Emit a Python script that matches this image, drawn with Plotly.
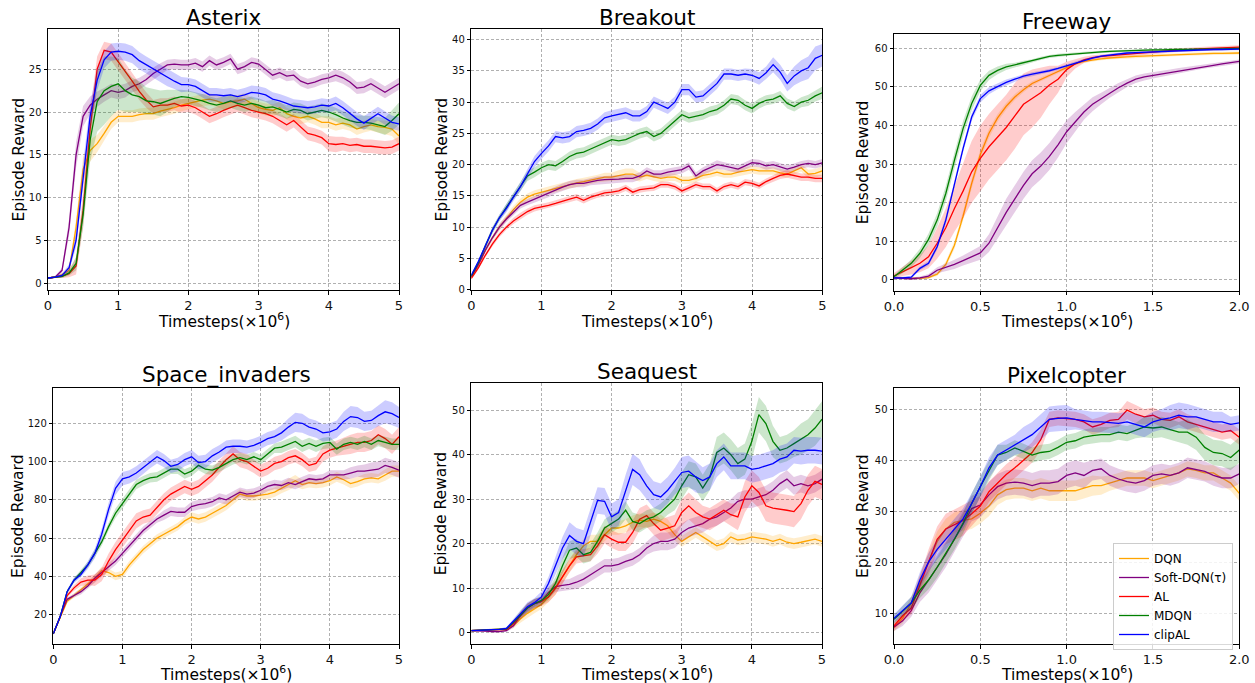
import plotly.graph_objects as go

# ---------------- x grids (timesteps, x1e6) ----------------
X_5M = [0.0, 0.1, 0.2, 0.3, 0.4, 0.5, 0.6, 0.7, 0.8, 0.9,
        1.0, 1.1, 1.2, 1.3, 1.4, 1.5, 1.6, 1.7, 1.8, 1.9,
        2.0, 2.1, 2.2, 2.3, 2.4, 2.5, 2.6, 2.7, 2.8, 2.9,
        3.0, 3.1, 3.2, 3.3, 3.4, 3.5, 3.6, 3.7, 3.8, 3.9,
        4.0, 4.1, 4.2, 4.3, 4.4, 4.5, 4.6, 4.7, 4.8, 4.9,
        5.0]
X_2M = [0.0, 0.05, 0.1, 0.15, 0.2, 0.25, 0.3, 0.35, 0.4, 0.45,
        0.5, 0.55, 0.6, 0.65, 0.7, 0.75, 0.8, 0.85, 0.9, 0.95,
        1.0, 1.05, 1.1, 1.15, 1.2, 1.25, 1.3, 1.35, 1.4, 1.45,
        1.5, 1.55, 1.6, 1.65, 1.7, 1.75, 1.8, 1.85, 1.9, 1.95,
        2.0]

METHODS = ["DQN", "Soft-DQN(τ)", "AL", "MDQN", "clipAL"]
GAMES = ["Asterix", "Breakout", "Freeway", "Space_invaders", "Seaquest", "Pixelcopter"]

# ---------------- Asterix ----------------
AST_DQN = [0.6, 0.7, 1.0, 1.5, 6.5, 13.3, 15.5, 16.3, 17.5, 18.8,
           19.5, 19.5, 19.5, 19.7, 19.8, 19.8, 20.1, 20.3, 20.5, 20.8,
           21.0, 21.2, 21.4, 21.5, 21.3, 21.0, 21.2, 21.3, 21.5, 21.0,
           20.5, 20.3, 20.2, 20.5, 19.8, 19.5, 19.3, 19.5, 19.2, 18.8,
           18.8, 18.5, 18.7, 18.5, 18.0, 18.3, 18.5, 18.3, 18.2, 18.0,
           17.2]
AST_SOFT = [0.6, 0.7, 1.5, 6.5, 15.0, 19.5, 20.8, 21.5, 22.0, 22.5,
            22.3, 22.5, 23.0, 23.3, 23.8, 24.5, 25.0, 25.5, 25.6, 25.5,
            25.5, 25.7, 25.3, 26.0, 25.5, 25.8, 26.2, 25.0, 25.3, 25.8,
            25.6, 25.0, 24.3, 24.6, 24.2, 24.3, 23.6, 23.3, 23.5, 23.8,
            24.0, 24.3, 24.0, 23.5, 22.8, 22.9, 23.3, 22.8, 22.3, 22.8,
            23.3]
AST_AL = [0.6, 0.7, 0.8, 1.1, 2.0, 8.5, 18.0, 25.0, 27.2, 27.0,
          25.9, 24.7, 23.6, 22.4, 21.4, 20.6, 20.8, 20.8, 21.0, 20.7,
          20.8, 20.5, 20.0, 19.5, 19.8, 20.2, 20.5, 20.8, 20.5, 20.2,
          20.0, 19.8, 19.5, 19.0, 18.5, 19.0, 18.3, 17.5, 17.3, 17.0,
          16.3, 16.2, 16.3, 16.1, 16.2, 16.0, 16.0, 15.9, 15.8, 15.9,
          16.3]
AST_MDQN = [0.6, 0.7, 0.8, 1.2, 2.3, 8.0, 16.7, 21.2, 22.5, 23.0,
            23.3, 22.5, 22.0, 21.8, 21.3, 21.2, 21.0, 21.3, 21.6, 21.8,
            21.7, 21.5, 21.3, 21.0, 20.8, 21.0, 21.3, 21.0, 20.8, 21.0,
            20.8, 20.5, 20.6, 20.3, 20.0, 20.3, 20.2, 19.8, 20.0, 20.2,
            20.0, 19.7, 19.3, 19.0, 18.8, 18.8, 18.7, 18.5, 18.3, 19.0,
            19.8]
AST_CLIP = [0.6, 0.7, 0.9, 1.8, 5.0, 12.5, 19.5, 23.7, 26.1, 27.0,
            27.1, 27.0, 26.7, 26.0, 25.5, 25.0, 24.5, 24.0, 23.6, 23.2,
            23.2, 23.0, 22.5, 22.0, 22.0, 21.9, 22.0, 21.8, 22.0, 22.3,
            22.2, 22.0, 21.5, 21.3, 21.0, 20.7, 20.6, 20.5, 20.6, 20.8,
            20.7, 21.0, 20.5, 19.8, 19.2, 18.7, 19.3, 19.8, 19.3, 18.8,
            18.6]
AST_DQN_SD = [0.1, 0.1, 0.2, 0.4, 1.0, 1.5, 1.3, 1.0, 0.9, 0.8,
              0.7, 0.7, 0.7, 0.7, 0.7, 0.7, 0.7, 0.7, 0.7, 0.7,
              0.7, 0.7, 0.7, 0.7, 0.7, 0.7, 0.7, 0.7, 0.7, 0.7,
              0.7, 0.7, 0.7, 0.7, 0.7, 0.7, 0.7, 0.7, 0.7, 0.7,
              0.7, 0.7, 0.7, 0.7, 0.7, 0.7, 0.7, 0.7, 0.8, 0.8,
              1.0]
AST_SOFT_SD = [0.1, 0.1, 0.3, 1.0, 1.5, 1.2, 1.0, 0.9, 0.8, 0.8,
               0.8, 0.8, 0.7, 0.7, 0.7, 0.7, 0.7, 0.6, 0.6, 0.6,
               0.6, 0.6, 0.6, 0.6, 0.6, 0.6, 0.6, 0.6, 0.6, 0.6,
               0.6, 0.6, 0.6, 0.6, 0.6, 0.6, 0.6, 0.6, 0.6, 0.6,
               0.6, 0.7, 0.7, 0.7, 0.7, 0.7, 0.7, 0.7, 0.7, 0.7,
               0.7]
AST_AL_SD = [0.1, 0.1, 0.2, 0.4, 1.0, 2.0, 2.0, 1.5, 1.0, 1.0,
             1.0, 1.0, 1.0, 1.0, 0.9, 0.8, 0.8, 0.8, 0.8, 0.8,
             0.8, 0.8, 0.8, 0.8, 0.8, 0.8, 0.8, 0.8, 0.8, 0.8,
             0.8, 0.8, 0.8, 0.8, 0.8, 0.8, 0.8, 0.8, 0.8, 0.8,
             0.9, 0.9, 0.8, 0.8, 0.8, 0.8, 0.8, 0.8, 0.8, 0.8,
             0.8]
AST_MDQN_SD = [0.1, 0.1, 0.2, 0.3, 0.8, 1.5, 2.5, 3.5, 4.0, 3.5,
               3.0, 2.5, 2.0, 1.8, 1.6, 1.5, 1.5, 1.3, 1.0, 0.8,
               0.8, 0.8, 0.8, 0.8, 0.8, 0.8, 0.8, 0.8, 0.8, 0.8,
               0.8, 0.8, 0.8, 0.8, 0.8, 0.8, 0.8, 0.8, 0.8, 0.8,
               0.8, 0.8, 0.8, 0.8, 0.8, 0.8, 0.8, 0.9, 1.0, 1.2,
               1.3]
AST_CLIP_SD = [0.1, 0.1, 0.2, 0.4, 0.8, 1.5, 1.5, 1.2, 1.0, 1.0,
               1.0, 1.0, 1.0, 1.0, 1.0, 1.0, 1.0, 1.0, 0.9, 0.9,
               0.8, 0.8, 0.8, 0.8, 0.8, 0.8, 0.8, 0.8, 0.8, 0.8,
               0.8, 0.8, 0.8, 0.8, 0.8, 0.8, 0.8, 0.8, 0.8, 0.8,
               0.8, 0.8, 0.8, 0.8, 0.8, 0.8, 0.8, 0.8, 0.8, 0.8,
               0.8]

# ---------------- Breakout ----------------
BRK_DQN = [2.0, 4.0, 6.3, 8.3, 10.0, 11.5, 12.8, 14.0, 14.8, 15.3,
           15.6, 16.0, 16.2, 16.5, 16.8, 17.1, 17.3, 17.5, 17.8, 18.0,
           18.0, 18.3, 18.5, 18.5, 18.0, 18.3, 18.0, 17.8, 18.0, 18.0,
           17.5, 17.5, 17.8, 18.3, 18.5, 18.8, 18.5, 18.5, 18.8, 19.0,
           19.2, 19.0, 19.0, 19.0, 18.7, 18.5, 19.0, 19.5, 18.5, 18.6,
           19.0]
BRK_SOFT = [2.0, 4.0, 6.3, 8.3, 10.0, 11.3, 12.4, 13.5, 14.0, 14.5,
            15.0, 15.4, 16.0, 16.4, 16.8, 17.0, 17.0, 17.3, 17.5, 17.6,
            17.6, 17.7, 17.8, 17.8, 18.2, 19.0, 18.5, 18.5, 18.8, 19.0,
            19.2, 19.8, 18.2, 19.0, 19.5, 20.0, 19.8, 19.5, 19.3, 19.8,
            20.3, 20.2, 19.8, 20.0, 19.6, 19.3, 19.6, 20.0, 20.2, 20.0,
            20.3]
BRK_AL = [1.8, 3.5, 5.5, 7.3, 8.8, 10.0, 11.0, 11.8, 12.5, 13.0,
          13.2, 13.5, 13.8, 14.2, 14.5, 14.8, 14.3, 14.8, 15.2, 15.5,
          15.6, 15.8, 16.3, 15.6, 16.0, 16.2, 16.3, 16.8, 16.8, 16.5,
          15.8, 16.3, 16.8, 16.5, 16.5, 15.8, 16.5, 16.8, 16.5, 17.2,
          17.0, 16.6, 17.3, 17.8, 18.3, 18.5, 18.3, 18.0, 18.0, 17.8,
          17.8]
BRK_MDQN = [2.2, 4.3, 7.0, 9.5, 11.5, 13.2, 15.0, 16.5, 18.2, 18.8,
            19.5, 20.0, 19.8, 20.5, 21.3, 21.8, 22.0, 22.5, 23.0, 23.5,
            24.0, 23.8, 24.0, 24.5, 25.0, 25.3, 24.5, 25.0, 26.0, 27.0,
            28.0, 27.5, 27.8, 28.0, 28.5, 28.8, 29.5, 30.5, 30.3, 29.5,
            29.0, 29.8, 30.3, 30.5, 31.0, 29.8, 29.3, 30.0, 30.3, 31.0,
            31.5]
BRK_CLIP = [2.3, 4.5, 7.0, 9.5, 11.5, 13.0, 14.8, 16.5, 18.5, 20.5,
            21.8, 23.0, 24.5, 24.3, 24.5, 25.3, 25.5, 25.8, 26.5, 27.5,
            27.8, 28.0, 28.3, 27.8, 27.8, 28.5, 30.0, 29.5, 29.0, 30.0,
            32.0, 32.0, 30.8, 31.0, 32.0, 33.0, 34.5, 34.5, 34.3, 34.5,
            34.3, 33.8, 34.7, 36.0, 34.8, 33.0, 34.2, 35.0, 35.5, 37.0,
            37.5]
BRK_DQN_SD = [0.2, 0.3, 0.4, 0.4, 0.5, 0.5, 0.6, 0.6, 0.6, 0.6,
              0.6, 0.6, 0.6, 0.6, 0.6, 0.6, 0.6, 0.6, 0.6, 0.7,
              0.7, 0.8, 0.9, 0.9, 0.7, 0.6, 0.6, 0.6, 0.6, 0.6,
              0.6, 0.6, 0.6, 0.6, 0.6, 0.6, 0.6, 0.6, 0.6, 0.6,
              0.6, 0.6, 0.6, 0.6, 0.6, 0.6, 0.6, 0.6, 0.7, 0.7,
              0.7]
BRK_SOFT_SD = [0.2, 0.3, 0.4, 0.4, 0.5, 0.5, 0.5, 0.5, 0.5, 0.5,
               0.6, 0.6, 0.6, 0.6, 0.6, 0.6, 0.6, 0.6, 0.6, 0.6,
               0.6, 0.6, 0.6, 0.6, 0.6, 0.6, 0.6, 0.6, 0.6, 0.6,
               0.6, 0.6, 0.6, 0.6, 0.7, 0.7, 0.6, 0.6, 0.6, 0.6,
               0.6, 0.6, 0.6, 0.6, 0.6, 0.6, 0.6, 0.6, 0.6, 0.6,
               0.6]
BRK_AL_SD = [0.2, 0.3, 0.3, 0.4, 0.4, 0.4, 0.5, 0.5, 0.5, 0.5,
             0.5, 0.5, 0.5, 0.5, 0.5, 0.5, 0.5, 0.5, 0.5, 0.5,
             0.5, 0.5, 0.5, 0.5, 0.5, 0.5, 0.5, 0.5, 0.5, 0.5,
             0.5, 0.5, 0.5, 0.5, 0.5, 0.5, 0.5, 0.5, 0.5, 0.5,
             0.5, 0.5, 0.5, 0.5, 0.6, 0.6, 0.6, 0.6, 0.6, 0.6,
             0.6]
BRK_MDQN_SD = [0.2, 0.3, 0.4, 0.5, 0.5, 0.6, 0.6, 0.7, 0.8, 0.8,
               0.8, 0.8, 0.8, 0.8, 0.8, 0.8, 0.8, 0.8, 0.8, 0.8,
               0.8, 0.8, 0.8, 0.8, 0.8, 0.8, 0.8, 0.8, 0.8, 0.8,
               0.8, 0.8, 0.8, 0.8, 0.8, 0.8, 0.8, 0.8, 0.8, 0.8,
               0.8, 0.8, 0.8, 0.8, 0.8, 0.8, 0.8, 0.8, 0.9, 0.9,
               1.0]
BRK_CLIP_SD = [0.2, 0.3, 0.4, 0.5, 0.5, 0.6, 0.6, 0.7, 0.8, 0.9,
               0.9, 0.9, 0.9, 0.9, 0.9, 0.9, 0.9, 0.9, 0.9, 0.9,
               0.9, 0.9, 0.9, 0.9, 0.9, 0.9, 0.9, 0.9, 0.9, 0.9,
               0.9, 0.9, 0.9, 0.9, 0.9, 0.9, 0.9, 0.9, 0.9, 0.9,
               1.0, 1.0, 1.0, 1.2, 1.2, 1.3, 1.5, 1.7, 1.8, 1.9,
               1.8]

# ---------------- Freeway (0 - 2e6) ----------------
FRW_DQN = [0.5, 0.5, 0.4, 0.4, 0.6, 1.5, 4.0, 9.0, 16.5, 25.0,
           32.5, 38.0, 42.0, 45.0, 47.4, 49.3, 50.9, 52.0, 53.0, 54.0,
           55.0, 56.0, 56.6, 57.0, 57.3, 57.5, 57.7, 57.8, 57.9, 58.0,
           58.1, 58.2, 58.3, 58.4, 58.5, 58.6, 58.6, 58.7, 58.7, 58.8,
           58.8]
FRW_SOFT = [0.5, 0.4, 0.3, 0.5, 1.0, 2.5, 3.2, 4.0, 5.0, 6.0,
            7.0, 9.5, 13.5, 17.5, 21.0, 24.5, 27.5, 29.5, 32.0, 35.0,
            38.4, 41.0, 43.5, 45.5, 47.0, 48.5, 49.8, 51.0, 52.0, 52.6,
            53.0, 53.4, 53.8, 54.2, 54.6, 55.0, 55.3, 55.6, 56.0, 56.3,
            56.6]
FRW_AL = [1.0, 2.2, 3.2, 4.3, 6.0, 9.5, 13.5, 18.5, 23.0, 28.0,
          31.5, 34.5, 37.0, 39.5, 42.5, 45.5, 47.0, 48.5, 50.5, 52.0,
          54.5, 56.0, 57.0, 57.6, 57.9, 58.1, 58.3, 58.5, 58.7, 58.9,
          59.0, 59.2, 59.4, 59.5, 59.7, 59.8, 59.9, 60.0, 60.1, 60.2,
          60.3]
FRW_MDQN = [0.8, 2.5, 4.3, 6.9, 10.5, 15.5, 22.4, 31.0, 39.2, 45.7,
            50.4, 53.0, 54.3, 55.2, 55.7, 56.3, 56.8, 57.4, 57.9, 58.2,
            58.4, 58.6, 58.8, 59.0, 59.1, 59.2, 59.3, 59.4, 59.5, 59.5,
            59.6, 59.6, 59.7, 59.7, 59.7, 59.8, 59.8, 59.8, 59.9, 59.9,
            60.0]
FRW_CLIP = [0.5, 0.5, 0.7, 3.0, 4.3, 8.6, 15.5, 25.0, 34.0, 42.2,
            47.0, 49.0, 50.2, 51.2, 52.0, 52.8, 53.3, 53.7, 54.2, 54.8,
            55.5, 56.3, 57.0, 57.5, 58.0, 58.3, 58.6, 58.8, 58.9, 59.0,
            59.1, 59.2, 59.3, 59.4, 59.5, 59.6, 59.6, 59.7, 59.7, 59.8,
            59.8]
FRW_DQN_SD = [0.3, 0.3, 0.3, 0.3, 0.3, 0.5, 0.8, 1.0, 1.2, 1.3,
              1.3, 1.2, 1.0, 0.9, 0.8, 0.7, 0.6, 0.5, 0.5, 0.5,
              0.4, 0.4, 0.4, 0.4, 0.4, 0.4, 0.4, 0.4, 0.4, 0.4,
              0.4, 0.4, 0.4, 0.4, 0.4, 0.4, 0.4, 0.4, 0.4, 0.4,
              0.4]
FRW_SOFT_SD = [0.3, 0.3, 0.3, 0.4, 0.5, 0.8, 1.0, 1.2, 1.3, 1.5,
               1.8, 2.3, 3.0, 3.5, 3.5, 3.5, 3.5, 3.5, 3.5, 3.3,
               3.0, 2.5, 2.0, 1.8, 1.5, 1.3, 1.2, 1.0, 1.0, 0.9,
               0.8, 0.8, 0.7, 0.7, 0.6, 0.6, 0.5, 0.5, 0.5, 0.5,
               0.5]
FRW_AL_SD = [0.8, 1.2, 1.8, 2.3, 3.0, 4.0, 5.0, 6.0, 7.0, 8.0,
             8.5, 8.5, 8.5, 8.5, 8.5, 8.0, 7.5, 6.5, 5.0, 3.5,
             2.0, 1.2, 0.8, 0.6, 0.5, 0.5, 0.5, 0.5, 0.5, 0.5,
             0.5, 0.5, 0.5, 0.5, 0.5, 0.5, 0.5, 0.5, 0.5, 0.5,
             0.5]
FRW_MDQN_SD = [0.5, 0.8, 1.0, 1.2, 1.5, 1.8, 2.0, 2.0, 2.0, 1.8,
               1.5, 1.2, 1.0, 0.8, 0.6, 0.5, 0.4, 0.4, 0.4, 0.4,
               0.3, 0.3, 0.3, 0.3, 0.3, 0.3, 0.3, 0.3, 0.3, 0.3,
               0.3, 0.3, 0.3, 0.3, 0.3, 0.3, 0.3, 0.3, 0.3, 0.3,
               0.3]
FRW_CLIP_SD = [0.3, 0.3, 0.4, 0.5, 0.6, 0.8, 1.0, 1.0, 1.0, 1.0,
               1.0, 0.9, 0.8, 0.7, 0.6, 0.5, 0.5, 0.5, 0.4, 0.4,
               0.4, 0.4, 0.3, 0.3, 0.3, 0.3, 0.3, 0.3, 0.3, 0.3,
               0.3, 0.3, 0.3, 0.3, 0.3, 0.3, 0.3, 0.3, 0.3, 0.3,
               0.3]

# ---------------- Space_invaders ----------------
SI_DQN = [10, 19, 27, 30, 33, 36, 39, 43, 42, 40,
          41, 46, 50, 54, 57, 60, 62, 64, 66, 69,
          71, 70, 71, 73, 75, 77, 80, 83, 82, 82,
          82.5, 83, 84, 86, 88, 90, 88, 89, 88.5, 89,
          90, 92, 90.5, 88.5, 89.5, 91, 91.5, 91, 93, 95,
          95]
SI_SOFT = [10, 19, 28, 30, 32, 35, 39, 42, 45, 48,
           52, 56, 60, 64, 67, 70, 72, 74, 73.5, 73.5,
           76.5, 77.5, 78, 79, 81, 80, 82, 84, 83, 83.5,
           85, 87, 88, 87.5, 89, 88, 89.5, 91, 90.5, 91,
           93, 93, 93, 94, 95, 95, 95.5, 96, 98, 97,
           95.5]
SI_AL = [10, 19, 30, 34, 37, 38, 38, 41, 48, 54,
         59, 64, 69, 71, 72, 76, 80, 83, 85, 87,
         85.5, 87, 90, 93, 97, 101, 104, 101, 100, 97.5,
         95, 96.5, 99, 100, 102, 103, 101, 98, 99, 104,
         106, 107, 108, 109, 110, 110, 111, 114, 112, 109,
         113]
SI_MDQN = [10, 19, 32, 38, 42, 46, 52, 58, 66, 73,
           78, 83, 88, 90, 91.5, 92, 94, 96, 96, 93.5,
           95, 98, 96, 95.5, 97, 99, 101, 102, 101, 102.5,
           101, 104, 107, 107.5, 109, 110.5, 108, 109.5, 108, 109.5,
           110, 106.5, 109, 110, 109, 110.5, 109, 111, 110, 109,
           109]
SI_CLIP = [10, 19, 32, 38, 41, 46, 52, 62, 75, 86,
           91, 92, 94, 97, 100, 102.5, 100.5, 97.5, 98.5, 101,
           102.5, 99.5, 100, 103, 105, 107.5, 108, 108, 107.5, 108.5,
           110, 112, 113, 115, 118, 120.5, 120, 118, 117, 115,
           115.5, 117, 121, 123.5, 123, 121, 121.5, 124, 126, 125,
           123]
SI_DQN_SD = [0.5, 1.0, 1.0, 1.0, 1.5, 1.5, 2.0, 2.0, 2.0, 2.0,
             2.0, 2.0, 2.0, 2.0, 2.0, 2.0, 2.0, 2.0, 2.0, 2.0,
             2.5, 2.5, 2.5, 2.5, 2.5, 2.5, 2.5, 2.5, 2.5, 2.5,
             2.5, 2.5, 2.5, 2.5, 3.0, 3.0, 2.5, 2.5, 2.5, 2.5,
             2.5, 2.5, 2.5, 2.5, 2.5, 2.5, 2.5, 2.5, 3.0, 3.0,
             3.0]
SI_SOFT_SD = [0.5, 1.0, 1.0, 1.0, 1.5, 1.5, 2.0, 2.0, 2.0, 2.0,
              2.0, 2.0, 2.0, 2.0, 2.0, 2.0, 2.5, 2.5, 2.5, 2.5,
              2.5, 2.5, 2.5, 2.5, 2.5, 2.5, 2.5, 2.5, 2.5, 2.5,
              2.5, 2.5, 2.5, 2.5, 2.5, 2.5, 2.5, 2.5, 2.5, 2.5,
              2.5, 2.5, 2.5, 3.0, 3.0, 3.5, 4.0, 4.0, 4.0, 4.0,
              4.0]
SI_AL_SD = [0.5, 1.0, 1.0, 1.5, 2.0, 2.5, 3.0, 3.5, 4.0, 4.0,
            4.0, 4.0, 4.0, 3.5, 3.5, 3.5, 3.5, 3.5, 3.5, 3.5,
            3.5, 3.5, 3.5, 3.5, 3.5, 3.5, 4.0, 4.0, 4.0, 3.5,
            3.5, 3.5, 3.5, 3.5, 3.5, 3.5, 3.5, 3.5, 3.5, 4.0,
            4.0, 4.0, 4.5, 5.0, 5.0, 5.0, 5.0, 5.0, 5.0, 5.0,
            5.0]
SI_MDQN_SD = [0.5, 1.0, 1.0, 1.0, 1.5, 1.5, 2.0, 2.0, 2.0, 2.5,
              2.5, 2.5, 2.5, 2.5, 2.5, 2.5, 2.5, 2.5, 2.5, 2.5,
              2.5, 2.5, 2.5, 2.5, 2.5, 2.5, 2.5, 2.5, 2.5, 2.5,
              2.5, 2.5, 2.5, 3.0, 3.0, 3.0, 3.0, 3.0, 3.0, 3.0,
              3.0, 3.0, 3.0, 3.0, 3.0, 3.0, 3.0, 3.0, 3.0, 3.0,
              3.0]
SI_CLIP_SD = [0.5, 1.0, 1.0, 1.5, 1.5, 2.0, 2.5, 3.0, 3.5, 3.5,
              3.5, 3.5, 3.5, 3.5, 3.5, 3.5, 3.5, 3.5, 3.5, 3.5,
              3.5, 3.5, 3.5, 3.5, 3.5, 3.5, 3.5, 3.5, 3.5, 3.5,
              3.5, 3.5, 3.5, 4.0, 4.5, 5.0, 5.0, 4.5, 4.5, 4.5,
              4.5, 4.5, 5.0, 5.5, 5.5, 5.0, 5.0, 5.5, 6.0, 6.0,
              5.5]

# ---------------- Seaquest ----------------
SQ_DQN = [0.4, 0.5, 0.6, 0.7, 0.7, 0.7, 1.5, 3.0, 4.3, 5.3,
          6.3, 8.0, 10.0, 12.5, 15.0, 17.5, 19.5, 20.5, 20.5, 22.0,
          23.5, 23.5, 24.0, 24.8, 25.3, 25.0, 25.5, 25.0, 24.0, 22.0,
          20.5, 21.5, 22.5, 21.5, 20.5, 19.5, 20.0, 21.5, 20.8, 21.0,
          21.5, 21.2, 21.0, 20.5, 21.0, 20.3, 20.0, 20.3, 20.7, 21.0,
          20.5]
SQ_SOFT = [0.4, 0.4, 0.3, 0.2, 0.2, 0.4, 1.5, 3.8, 5.5, 6.5,
           7.0, 9.0, 10.3, 10.6, 10.8, 11.3, 12.0, 13.0, 14.0, 15.0,
           15.0, 15.3, 16.0, 16.5, 17.5, 19.0, 20.0, 20.5, 20.5, 21.0,
           22.5, 23.5, 24.0, 24.5, 25.5, 26.0, 27.0, 28.0, 29.5, 30.0,
           30.0, 30.5, 31.0, 32.0, 33.5, 34.5, 33.0, 33.5, 33.0, 33.5,
           34.5]
SQ_AL = [0.4, 0.45, 0.5, 0.6, 0.6, 0.7, 2.0, 3.8, 5.5, 6.5,
         7.0, 8.0, 10.0, 12.5, 15.0, 17.0, 17.3, 17.5, 19.5, 22.0,
         21.0, 20.3, 20.3, 22.5, 25.5, 26.3, 24.5, 23.0, 23.5, 24.0,
         27.0, 28.5, 27.0, 26.0, 25.5, 26.5, 27.5, 26.5, 26.0, 30.5,
         33.0, 31.5, 28.5, 28.0, 27.8, 27.5, 27.2, 29.0, 32.0, 34.0,
         33.3]
SQ_MDQN = [0.4, 0.45, 0.5, 0.6, 0.7, 0.8, 2.3, 4.0, 5.5, 6.5,
           7.2, 8.5, 11.0, 15.0, 18.5, 19.0, 17.5, 18.0, 20.5, 23.5,
           24.5, 25.5, 27.5, 25.0, 24.5, 25.5, 26.0, 27.0, 28.5, 30.0,
           33.0, 35.5, 35.0, 32.5, 35.0, 40.5, 41.5, 40.0, 38.0, 39.0,
           43.0, 49.0, 47.0, 43.0, 41.0, 41.5, 42.5, 43.5, 44.5, 46.0,
           48.0]
SQ_CLIP = [0.4, 0.45, 0.5, 0.6, 0.7, 0.9, 2.5, 4.2, 5.8, 6.7,
           8.0, 11.0, 15.0, 19.0, 21.8, 20.5, 20.0, 25.0, 29.7, 29.5,
           26.0, 27.0, 32.0, 36.7, 35.5, 33.0, 31.0, 30.5, 32.0, 34.0,
           36.0, 36.3, 35.0, 34.2, 35.0, 38.0, 39.5, 37.5, 37.5, 37.5,
           36.7, 37.0, 37.5, 38.0, 39.0, 39.5, 41.0, 40.8, 41.0, 41.0,
           40.8]
SQ_DQN_SD = [0.2, 0.2, 0.2, 0.2, 0.2, 0.3, 0.5, 0.8, 1.0, 1.0,
             1.0, 1.2, 1.5, 1.5, 1.5, 1.5, 1.5, 1.5, 1.5, 1.5,
             1.5, 1.5, 1.5, 1.5, 1.5, 1.5, 1.5, 1.5, 1.5, 1.3,
             1.2, 1.2, 1.2, 1.2, 1.2, 1.2, 1.2, 1.2, 1.2, 1.2,
             1.2, 1.2, 1.2, 1.2, 1.2, 1.2, 1.2, 1.2, 1.2, 1.2,
             1.2]
SQ_SOFT_SD = [0.2, 0.2, 0.2, 0.2, 0.2, 0.3, 0.5, 0.8, 1.0, 1.0,
              1.0, 1.2, 1.2, 1.2, 1.2, 1.5, 1.5, 1.5, 1.5, 1.5,
              1.5, 1.5, 1.5, 1.5, 1.5, 1.5, 1.8, 2.0, 2.0, 2.0,
              2.0, 2.0, 2.0, 2.0, 2.0, 2.0, 2.0, 2.0, 2.0, 2.0,
              2.0, 2.0, 2.0, 2.0, 2.0, 2.0, 2.0, 2.0, 2.0, 2.0,
              2.0]
SQ_AL_SD = [0.2, 0.2, 0.2, 0.2, 0.2, 0.3, 0.5, 0.8, 1.0, 1.0,
            1.0, 1.2, 1.5, 1.5, 1.5, 1.5, 1.5, 1.5, 1.8, 2.0,
            2.0, 2.0, 2.0, 2.5, 2.5, 2.5, 2.5, 2.5, 2.5, 2.5,
            3.0, 3.0, 3.0, 2.5, 2.5, 2.5, 2.5, 2.5, 3.0, 3.5,
            3.5, 3.5, 3.5, 3.5, 3.5, 3.5, 3.5, 3.5, 3.5, 3.5,
            3.5]
SQ_MDQN_SD = [0.2, 0.2, 0.2, 0.2, 0.2, 0.3, 0.5, 0.8, 1.0, 1.0,
              1.0, 1.2, 1.5, 1.8, 2.0, 2.0, 2.0, 2.0, 2.0, 2.0,
              2.0, 2.0, 2.0, 2.0, 2.0, 2.0, 2.0, 2.0, 2.0, 2.5,
              3.0, 3.0, 3.0, 3.0, 3.0, 3.5, 3.5, 3.5, 3.5, 3.5,
              4.0, 4.0, 4.0, 3.5, 3.0, 3.0, 3.0, 3.5, 3.5, 4.0,
              4.0]
SQ_CLIP_SD = [0.2, 0.2, 0.2, 0.2, 0.2, 0.3, 0.5, 0.8, 1.0, 1.0,
              1.2, 1.5, 2.0, 2.5, 3.0, 3.0, 3.0, 3.0, 3.0, 3.0,
              3.0, 3.0, 3.5, 3.5, 3.5, 3.0, 3.0, 3.0, 3.0, 3.0,
              3.5, 3.5, 3.5, 3.0, 3.0, 3.0, 3.0, 3.0, 3.0, 3.0,
              3.0, 3.0, 3.0, 3.0, 3.0, 3.0, 3.0, 3.0, 3.0, 3.0,
              3.0]

# ---------------- Pixelcopter (0 - 2e6) ----------------
PC_DQN = [7.2, 9.0, 12.0, 16.0, 20.0, 24.0, 26.5, 27.8, 28.2, 28.5,
          29.6, 31.0, 33.2, 34.2, 34.5, 34.5, 34.0, 34.5, 34.0, 34.0,
          34.0, 34.0, 34.5, 35.0, 35.0, 35.5, 36.0, 36.5, 36.5, 36.5,
          36.0, 36.5, 37.0, 37.5, 38.3, 38.0, 37.5, 37.5, 36.5, 35.5,
          33.5]
PC_SOFT = [7.3, 8.5, 10.5, 14.0, 16.5, 19.0, 21.5, 24.5, 27.5, 30.5,
           31.2, 33.2, 34.8, 35.5, 35.7, 35.5, 35.0, 35.5, 35.5, 35.8,
           37.0, 37.5, 37.0, 38.0, 38.3, 37.0, 36.3, 35.8, 35.5, 36.0,
           37.0, 37.3, 37.0, 37.5, 38.5, 38.2, 37.8, 37.0, 36.5, 36.5,
           37.3]
PC_AL = [7.5, 9.5, 11.0, 15.5, 20.0, 24.5, 26.5, 27.3, 28.2, 29.5,
         31.0, 33.8, 35.5, 37.2, 38.5, 40.0, 41.5, 44.0, 48.0, 48.3,
         48.2, 48.0, 47.5, 46.5, 47.0, 47.8, 48.0, 49.8, 49.0, 48.5,
         48.8, 48.0, 47.8, 48.5, 47.5, 47.0, 46.5, 46.0, 45.5, 45.8,
         44.5]
PC_MDQN = [8.8, 10.5, 12.0, 14.5, 16.5, 19.0, 21.8, 24.5, 27.6, 31.5,
           34.8, 38.0, 41.0, 41.5, 42.4, 41.7, 41.0, 41.5, 41.7, 42.5,
           43.5, 43.8, 44.5, 44.8, 45.0, 45.0, 45.5, 45.2, 45.8, 46.5,
           46.3, 46.5, 46.0, 45.5, 45.5, 44.5, 42.5, 41.5, 41.3, 40.5,
           42.0]
PC_CLIP = [9.0, 10.5, 12.0, 16.5, 20.0, 22.5, 24.5, 26.5, 28.5, 31.5,
           34.8, 38.5, 41.0, 42.0, 43.0, 44.0, 45.0, 46.5, 48.0, 48.2,
           48.3, 48.0, 47.8, 47.5, 47.5, 47.3, 47.2, 47.5, 47.0, 46.5,
           47.5, 48.0, 48.3, 48.8, 48.5, 48.5, 48.0, 47.5, 47.5, 47.0,
           47.3]
PC_DQN_SD = [0.8, 1.0, 1.2, 1.5, 1.8, 2.0, 2.0, 2.0, 2.0, 2.0,
             2.0, 2.0, 2.0, 2.0, 2.0, 2.0, 2.0, 2.0, 2.0, 2.0,
             2.0, 2.0, 2.0, 2.0, 1.8, 1.5, 1.5, 1.5, 1.5, 1.5,
             1.5, 1.5, 1.5, 1.5, 1.5, 1.5, 1.5, 1.5, 1.5, 1.5,
             1.5]
PC_SOFT_SD = [0.8, 1.0, 1.2, 1.8, 2.5, 2.5, 2.5, 2.5, 2.5, 2.5,
              2.5, 2.5, 2.5, 2.5, 2.5, 2.5, 2.5, 2.5, 2.5, 2.5,
              2.5, 2.5, 2.5, 2.0, 2.0, 2.0, 2.0, 2.0, 2.0, 2.0,
              2.0, 2.0, 2.0, 2.0, 2.0, 2.0, 2.0, 2.0, 2.0, 2.0,
              2.0]
PC_AL_SD = [0.8, 1.0, 1.2, 1.8, 2.5, 2.5, 3.0, 3.0, 3.0, 2.5,
            2.0, 2.0, 2.0, 2.0, 2.0, 2.0, 2.0, 2.0, 1.5, 1.5,
            1.5, 1.5, 1.5, 1.5, 1.5, 1.5, 1.5, 1.8, 1.8, 1.5,
            1.5, 1.5, 1.5, 1.5, 1.5, 1.5, 1.5, 1.5, 1.5, 1.5,
            1.5]
PC_MDQN_SD = [0.8, 1.0, 1.2, 1.5, 1.8, 2.0, 2.0, 2.0, 2.0, 2.0,
              2.0, 2.0, 2.0, 1.5, 1.5, 1.5, 1.5, 1.5, 1.5, 1.5,
              1.5, 1.5, 1.5, 1.5, 1.5, 1.5, 1.5, 1.5, 1.5, 2.0,
              2.0, 2.0, 2.0, 2.0, 2.5, 2.5, 2.5, 2.5, 2.5, 2.5,
              2.5]
PC_CLIP_SD = [0.8, 1.0, 1.2, 1.5, 1.8, 2.0, 2.0, 2.0, 2.0, 2.0,
              2.0, 2.0, 2.0, 2.0, 2.0, 2.5, 2.5, 2.5, 2.5, 2.5,
              2.5, 2.0, 2.0, 2.0, 2.0, 2.0, 2.0, 2.0, 2.0, 2.0,
              2.0, 2.0, 2.5, 2.5, 2.5, 2.0, 2.0, 2.0, 2.0, 1.5,
              1.5]

# ---------------- tick values ----------------
XT_5M = [0, 1, 2, 3, 4, 5]
XT_2M = [0.0, 0.5, 1.0, 1.5, 2.0]
YT_AST = [0, 5, 10, 15, 20, 25]
YT_BRK = [0, 5, 10, 15, 20, 25, 30, 35, 40]
YT_FRW = [0, 10, 20, 30, 40, 50, 60]
YT_SI = [20, 40, 60, 80, 100, 120]
YT_SQ = [0, 10, 20, 30, 40, 50]
YT_PC = [10, 20, 30, 40, 50]

SERIES = {
    "Asterix": (X_5M, [AST_DQN, AST_SOFT, AST_AL, AST_MDQN, AST_CLIP],
                [AST_DQN_SD, AST_SOFT_SD, AST_AL_SD, AST_MDQN_SD, AST_CLIP_SD]),
    "Breakout": (X_5M, [BRK_DQN, BRK_SOFT, BRK_AL, BRK_MDQN, BRK_CLIP],
                 [BRK_DQN_SD, BRK_SOFT_SD, BRK_AL_SD, BRK_MDQN_SD, BRK_CLIP_SD]),
    "Freeway": (X_2M, [FRW_DQN, FRW_SOFT, FRW_AL, FRW_MDQN, FRW_CLIP],
                [FRW_DQN_SD, FRW_SOFT_SD, FRW_AL_SD, FRW_MDQN_SD, FRW_CLIP_SD]),
    "Space_invaders": (X_5M, [SI_DQN, SI_SOFT, SI_AL, SI_MDQN, SI_CLIP],
                       [SI_DQN_SD, SI_SOFT_SD, SI_AL_SD, SI_MDQN_SD, SI_CLIP_SD]),
    "Seaquest": (X_5M, [SQ_DQN, SQ_SOFT, SQ_AL, SQ_MDQN, SQ_CLIP],
                 [SQ_DQN_SD, SQ_SOFT_SD, SQ_AL_SD, SQ_MDQN_SD, SQ_CLIP_SD]),
    "Pixelcopter": (X_2M, [PC_DQN, PC_SOFT, PC_AL, PC_MDQN, PC_CLIP],
                    [PC_DQN_SD, PC_SOFT_SD, PC_AL_SD, PC_MDQN_SD, PC_CLIP_SD]),
}

# ---------------- layout / style (pixel geometry) ----------------
W, H = 1255, 683
LINE_COLORS = ["#FFA500", "#800080", "#FF0000", "#008000", "#0000FF"]
BAND_COLORS = ["rgba(255,165,0,0.2)", "rgba(128,0,128,0.2)", "rgba(255,0,0,0.2)",
               "rgba(0,128,0,0.2)", "rgba(0,0,255,0.2)"]
FONT = "DejaVu Sans"

# per panel: (left, right, top, bottom) px, x range, y range, xticks, yticks, xfmt,
#            title y px, ylabel x px
PANELS = {
    "Asterix":        ((48, 399, 29, 290), [0, 5], [-0.8, 29.7], XT_5M, YT_AST, "", 17, 18),
    "Breakout":       ((471.3, 822.3, 29, 290), [0, 5], [-0.05, 41.7], XT_5M, YT_BRK, "", 17, 441),
    "Freeway":        ((894, 1239.3, 33.7, 290.7), [0, 2], [-2.8, 63.8], XT_2M, YT_FRW, ".1f", 21.7, 863),
    "Space_invaders": ((53.3, 399, 387.7, 644.3), [0, 5], [4.5, 138.6], XT_5M, YT_SI, "", 375, 18),
    "Seaquest":       ((471.3, 822, 382.7, 644), [0, 5], [-2.6, 56.2], XT_5M, YT_SQ, "", 371, 441),
    "Pixelcopter":    ((894, 1239.3, 387.7, 644.3), [0, 2], [3.9, 54.2], XT_2M, YT_PC, ".1f", 375, 863),
}

fig = go.Figure()
annotations = []
layout_axes = {}

for i, game in enumerate(GAMES):
    n = i + 1
    xs, means, sds = SERIES[game]
    (l, r, t, b), xr, yr, xt, yt, xfmt, title_y, ylab_x = PANELS[game]
    xa = "x" if n == 1 else f"x{n}"
    ya = "y" if n == 1 else f"y{n}"
    for k, name in enumerate(METHODS):
        m, s = means[k], sds[k]
        upper = [a + d for a, d in zip(m, s)]
        lower = [a - d for a, d in zip(m, s)]
        fig.add_trace(go.Scatter(
            x=list(xs) + list(xs)[::-1], y=upper + lower[::-1],
            fill="toself", fillcolor=BAND_COLORS[k], line=dict(width=0),
            mode="lines", hoverinfo="skip", showlegend=False,
            xaxis=xa, yaxis=ya))
        fig.add_trace(go.Scatter(
            x=xs, y=m, mode="lines", name=name,
            line=dict(color=LINE_COLORS[k], width=1.3),
            showlegend=(game == "Pixelcopter"),
            xaxis=xa, yaxis=ya))

    key_x = "xaxis" if n == 1 else f"xaxis{n}"
    key_y = "yaxis" if n == 1 else f"yaxis{n}"
    common = dict(showgrid=True, gridcolor="#b0b0b0", griddash="3px,2px", gridwidth=0.8,
                  showline=True, linecolor="#000000", linewidth=1, mirror=True,
                  ticks="outside", ticklen=3.5, tickwidth=0.8, tickcolor="#000000",
                  zeroline=False, automargin=False)
    layout_axes[key_x] = dict(common, domain=[l / W, r / W], anchor=ya, range=xr,
                              tickvals=xt, tickformat=xfmt,
                              tickfont=dict(family=FONT, size=13, color="#111111"))
    layout_axes[key_y] = dict(common, domain=[1 - b / H, 1 - t / H], anchor=xa, range=yr,
                              tickvals=yt,
                              tickfont=dict(family=FONT, size=10, color="#111111"))

    cx = (l + r) / 2 / W
    annotations.append(dict(text=game, x=cx, y=1 - title_y / H, xref="paper", yref="paper",
                            xanchor="center", yanchor="middle", showarrow=False,
                            font=dict(family=FONT, size=21.5, color="#000000")))
    annotations.append(dict(text="Episode Reward", x=ylab_x / W, y=1 - ((t + b) / 2) / H,
                            xref="paper", yref="paper", xanchor="center", yanchor="middle",
                            textangle=-90, showarrow=False,
                            font=dict(family=FONT, size=15.5, color="#000000")))
    xl_y = 321 if i < 3 else 673
    annotations.append(dict(text="Timesteps(×10<sup>6</sup>)", x=cx, y=1 - xl_y / H,
                            xref="paper", yref="paper", xanchor="center", yanchor="middle",
                            showarrow=False,
                            font=dict(family=FONT, size=15.5, color="#000000")))

fig.update_layout(
    width=W, height=H, autosize=False,
    margin=dict(l=0, r=0, t=0, b=0, pad=0),
    paper_bgcolor="white", plot_bgcolor="white",
    font=dict(family=FONT, color="#000000"),
    annotations=annotations,
    legend=dict(x=1233 / W, y=1 - 543 / H, xanchor="right", yanchor="top",
                bgcolor="rgba(255,255,255,0.85)", bordercolor="#cccccc", borderwidth=1,
                itemwidth=30,
                font=dict(family=FONT, size=12, color="#000000"), tracegroupgap=0),
    hovermode=False,
    **layout_axes,
)

fig.write_html("out.html",
               config={"displayModeBar": False},
               post_script="document.body.style.margin='0px';"
                           "document.body.style.overflow='hidden';")
